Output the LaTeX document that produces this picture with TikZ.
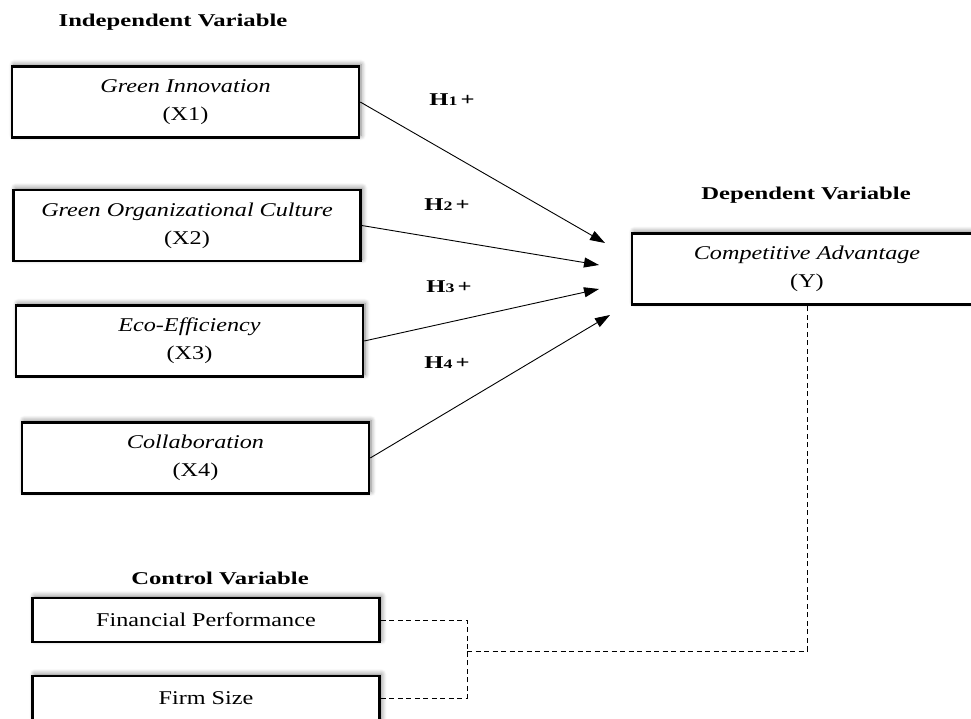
\documentclass[tikz,border=0pt]{standalone}
\usepackage{fontspec}
\setmainfont[FakeStretch=1.37]{Liberation Serif}
\newfontfamily\boxfont[FakeStretch=1.24]{Liberation Serif}
\usetikzlibrary{arrows.meta,shadows.blur}

\newcommand{\hyplabel}[1]{\textbf{H{\fontsize{13}{13}\selectfont #1}\,+}}

\begin{document}
\begin{tikzpicture}[x=1pt,y=-1pt,
    every node/.style={font=\fontsize{18}{28}\selectfont},
    varbox/.style={draw,line width=2.5pt,fill=white,minimum width=347pt,minimum height=71pt,
        align=center,inner sep=0pt,font=\boxfont\fontsize{19.5}{28}\selectfont,
        blur shadow={shadow xshift=2pt,shadow yshift=2pt,shadow blur radius=5pt,
            shadow opacity=50,shadow blur steps=6}},
    ctrlbox/.style={varbox,minimum height=44pt},
    head/.style={font=\fontsize{18}{23}\selectfont\bfseries},
    hyp/.style={-{Triangle[length=15pt,width=10pt]},line width=0.9pt},
    ctrl/.style={line width=0.9pt,dash pattern=on 5pt off 3.5pt}]
    \path[use as bounding box,clip] (0,0) rectangle (971,719);

    % headings
    \node[head] (indep) at (173,22) {Independent Variable};
    \node[head] (dep) at (806,195) {Dependent Variable};
    \node[head] (contr) at (220,578) {Control Variable};

    % variables
    \node[varbox] (x1) at (185.5,102) {\textit{Green Innovation}\\(X1)};
    \node[varbox] (x2) at (187,225.5) {\textit{Green Organizational Culture}\\(X2)};
    \node[varbox] (x3) at (189.5,341) {\textit{Eco-Efficiency}\\(X3)};
    \node[varbox] (x4) at (195.5,458) {\textit{Collaboration}\\(X4)};
    \node[varbox,minimum width=350pt] (y) at (807,269) {\textit{Competitive Advantage}\\(Y)};
    \node[ctrlbox] (fp) at (206,620) {Financial Performance};
    \node[ctrlbox] (fs) at (206,698) {Firm Size};

    % arrow tips
    \coordinate (t1) at (605,243);
    \coordinate (t2) at (599,265);
    \coordinate (t3) at (599,289);
    \coordinate (t4) at (610,315);
    \coordinate (j) at (467,651);

    \draw[hyp] (x1.east) -- (t1);
    \draw[hyp] (x2.east) -- (t2);
    \draw[hyp] (x3.east) -- (t3);
    \draw[hyp] (x4.east) -- (t4);

    \node (h1) at (452,100) {\hyplabel{1}};
    \node (h2) at (447,205) {\hyplabel{2}};
    \node (h3) at (449,287) {\hyplabel{3}};
    \node (h4) at (447,363) {\hyplabel{4}};

    % control
    \draw[ctrl] (fp.east) -| (j);
    \draw[ctrl] (fs.east) -| (j);
    \draw[ctrl] (j) -| (y.south);
\end{tikzpicture}
\end{document}
